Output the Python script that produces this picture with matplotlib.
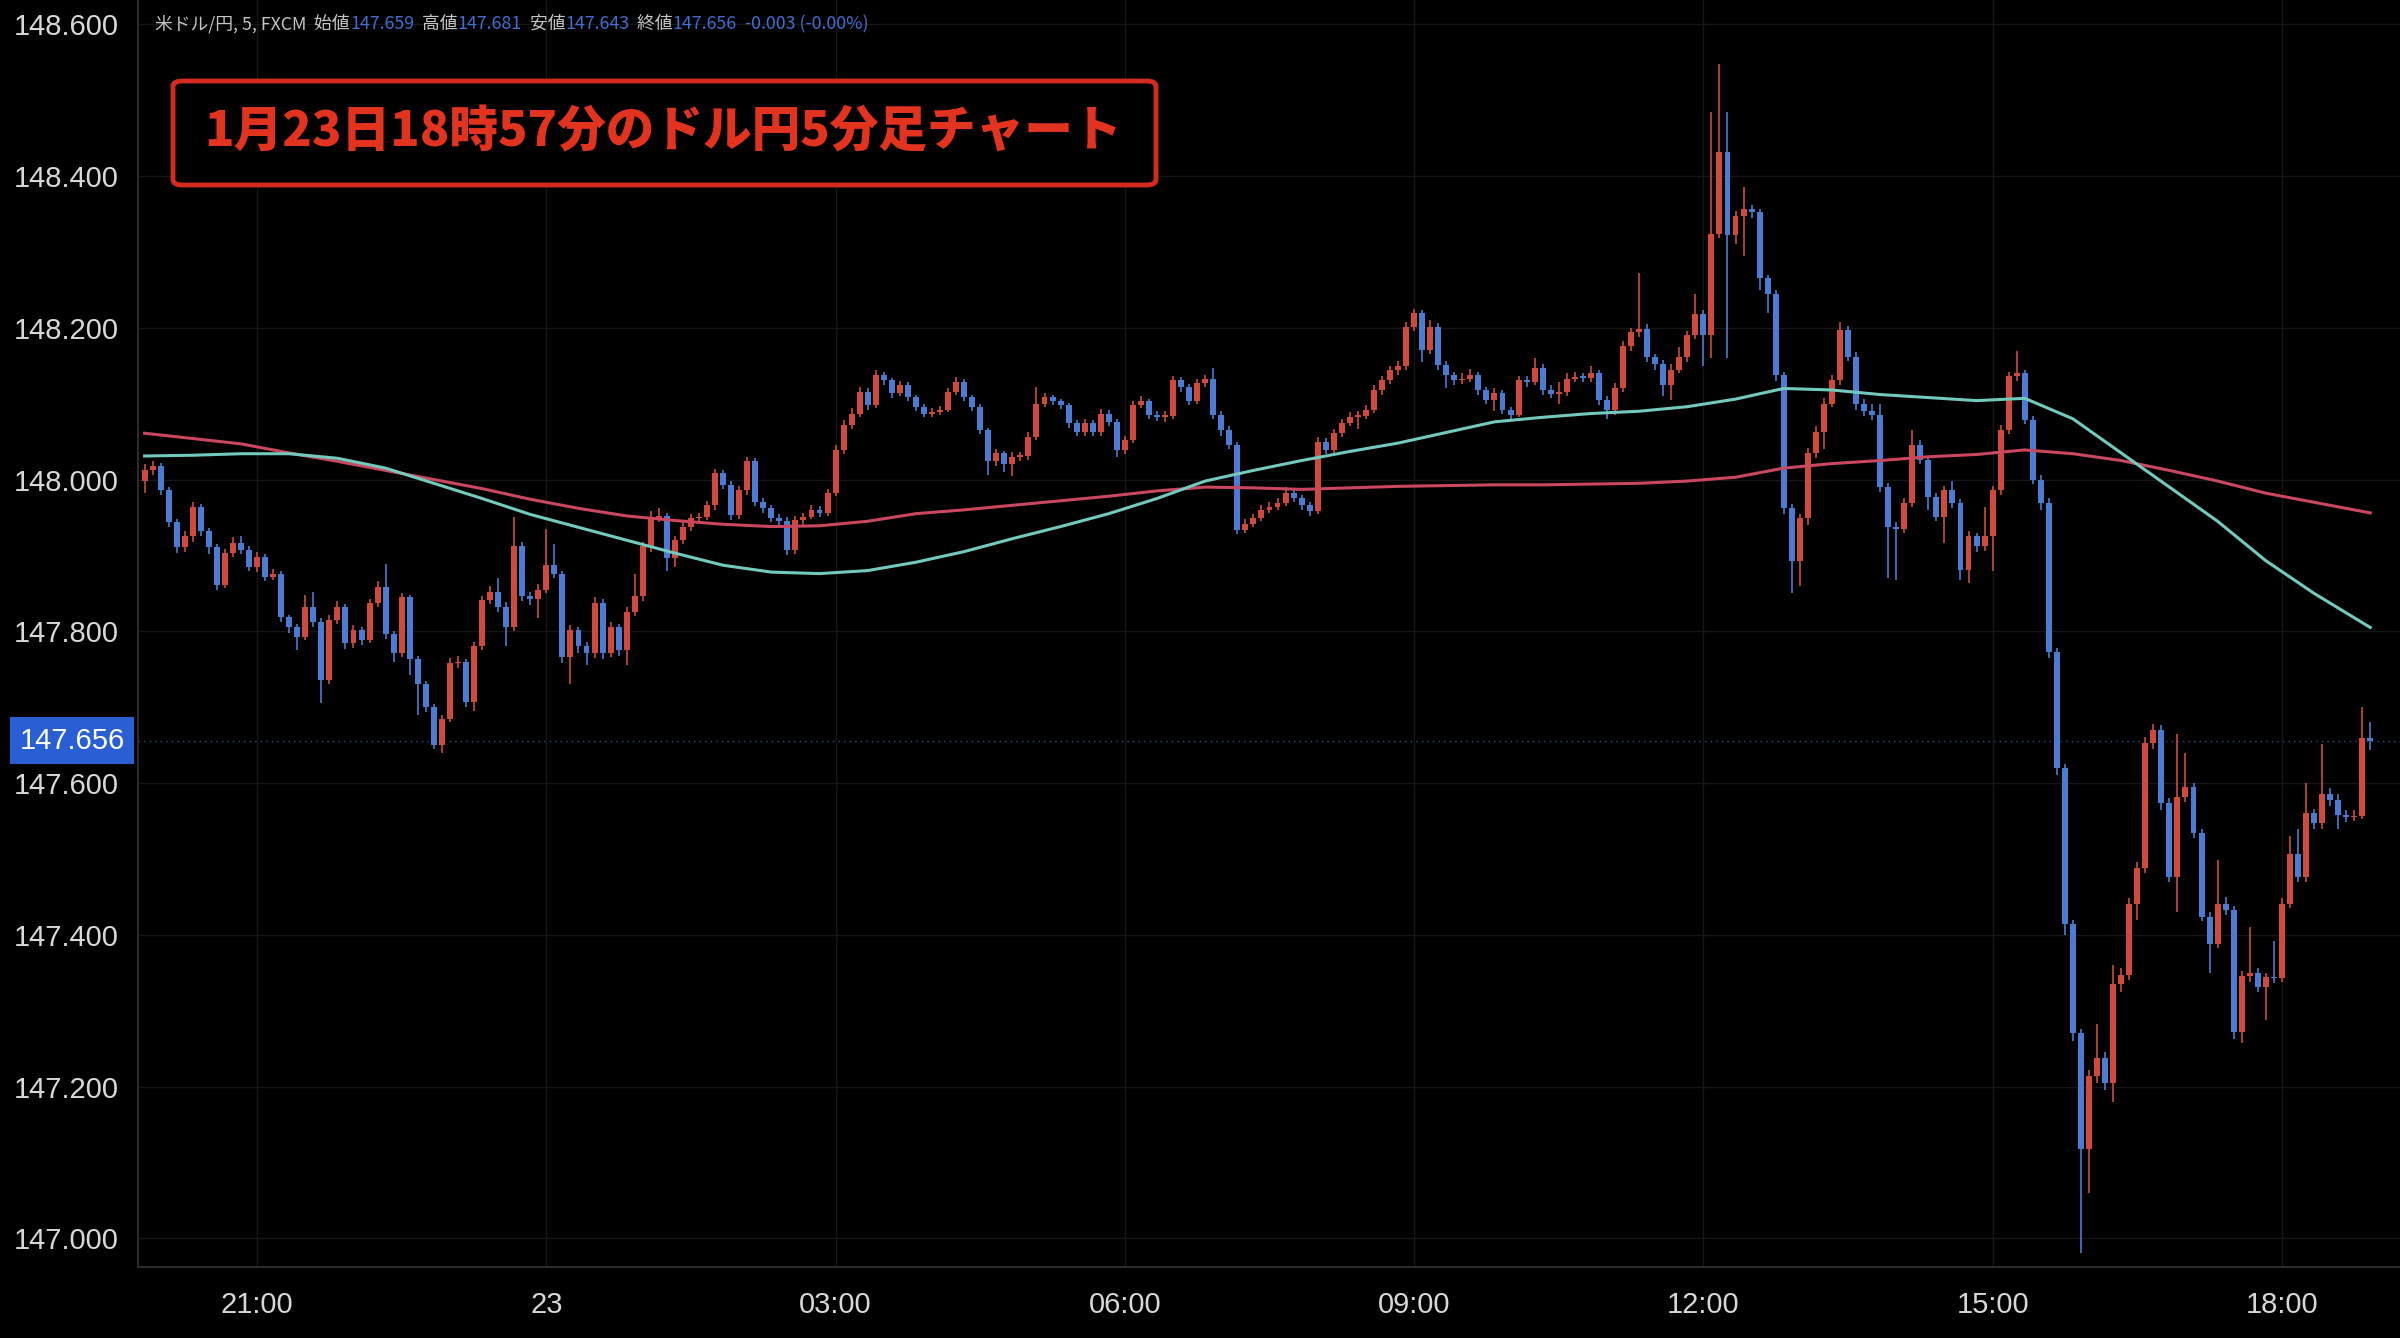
import matplotlib
matplotlib.use("Agg")
import matplotlib.pyplot as plt
from matplotlib.patches import FancyBboxPatch
import numpy as np
import pandas as pd

# USD/JPY 5-minute candles, 2024-01-22 19:50 .. 2024-01-23 18:55
first_open = 147.998
close = [
    148.012, 148.018, 147.986, 147.944, 147.911, 147.925, 147.964, 147.932, 147.911, 147.861, 147.903, 147.916,
    147.907, 147.885, 147.898, 147.872, 147.876, 147.819, 147.806, 147.793, 147.832, 147.812, 147.736, 147.815,
    147.832, 147.784, 147.802, 147.788, 147.837, 147.859, 147.797, 147.771, 147.845, 147.764, 147.731, 147.700,
    147.650, 147.685, 147.758, 147.760, 147.707, 147.780, 147.841, 147.852, 147.832, 147.806, 147.912, 147.846,
    147.842, 147.855, 147.887, 147.876, 147.766, 147.802, 147.780, 147.771, 147.837, 147.771, 147.806, 147.775,
    147.826, 147.846, 147.912, 147.949, 147.952, 147.896, 147.920, 147.938, 147.949, 147.951, 147.966, 148.008,
    147.993, 147.953, 147.986, 148.024, 147.971, 147.962, 147.949, 147.945, 147.907, 147.947, 147.951, 147.960,
    147.956, 147.982, 148.039, 148.072, 148.087, 148.116, 148.098, 148.138, 148.131, 148.114, 148.125, 148.109,
    148.096, 148.087, 148.089, 148.092, 148.116, 148.129, 148.109, 148.096, 148.065, 148.024, 148.035, 148.021,
    148.030, 148.031, 148.056, 148.100, 148.109, 148.103, 148.098, 148.074, 148.063, 148.074, 148.063, 148.087,
    148.076, 148.039, 148.052, 148.098, 148.103, 148.085, 148.083, 148.084, 148.131, 148.122, 148.103, 148.127,
    148.133, 148.085, 148.065, 148.046, 147.934, 147.942, 147.949, 147.960, 147.964, 147.969, 147.982, 147.975,
    147.966, 147.958, 148.050, 148.039, 148.061, 148.074, 148.083, 148.084, 148.092, 148.118, 148.131, 148.144,
    148.149, 148.201, 148.219, 148.171, 148.201, 148.151, 148.138, 148.131, 148.133, 148.138, 148.118, 148.105,
    148.114, 148.092, 148.085, 148.131, 148.129, 148.147, 148.118, 148.113, 148.115, 148.133, 148.135, 148.134,
    148.140, 148.105, 148.091, 148.121, 148.176, 148.194, 148.199, 148.161, 148.152, 148.124, 148.145, 148.161,
    148.190, 148.218, 148.190, 148.324, 148.432, 148.322, 148.347, 148.357, 148.352, 148.265, 148.244, 148.138,
    147.962, 147.892, 147.949, 148.035, 148.063, 148.100, 148.131, 148.197, 148.162, 148.100, 148.090, 148.085,
    147.990, 147.938, 147.935, 147.969, 148.046, 148.026, 147.977, 147.951, 147.986, 147.969, 147.881, 147.925,
    147.912, 147.925, 147.986, 148.065, 148.136, 148.140, 148.079, 148.000, 147.969, 147.773, 147.620, 147.414,
    147.270, 147.117, 147.214, 147.238, 147.205, 147.335, 147.347, 147.441, 147.488, 147.653, 147.670, 147.573,
    147.476, 147.582, 147.595, 147.534, 147.424, 147.388, 147.441, 147.432, 147.272, 147.345, 147.349, 147.331,
    147.344, 147.343, 147.441, 147.507, 147.476, 147.560, 147.547, 147.586, 147.577, 147.558, 147.555, 147.557,
    147.659, 147.656,
]
high = [
    148.020, 148.024, 148.022, 147.990, 147.948, 147.932, 147.970, 147.968, 147.936, 147.915, 147.909, 147.924,
    147.925, 147.912, 147.904, 147.902, 147.882, 147.880, 147.822, 147.810, 147.848, 147.852, 147.818, 147.822,
    147.840, 147.836, 147.808, 147.806, 147.842, 147.866, 147.889, 147.800, 147.850, 147.848, 147.768, 147.735,
    147.704, 147.690, 147.765, 147.768, 147.764, 147.786, 147.846, 147.860, 147.870, 147.838, 147.950, 147.918,
    147.852, 147.862, 147.935, 147.915, 147.880, 147.808, 147.806, 147.786, 147.845, 147.842, 147.812, 147.810,
    147.832, 147.875, 147.918, 147.958, 147.962, 147.956, 147.926, 147.944, 147.955, 147.956, 147.972, 148.014,
    148.012, 147.998, 147.992, 148.030, 148.028, 147.976, 147.966, 147.955, 147.950, 147.952, 147.956, 147.966,
    147.965, 147.988, 148.045, 148.078, 148.094, 148.122, 148.120, 148.145, 148.142, 148.134, 148.130, 148.128,
    148.112, 148.100, 148.094, 148.097, 148.121, 148.135, 148.132, 148.112, 148.099, 148.068, 148.040, 148.038,
    148.036, 148.036, 148.062, 148.122, 148.114, 148.112, 148.106, 148.101, 148.078, 148.080, 148.078, 148.093,
    148.092, 148.080, 148.058, 148.104, 148.110, 148.106, 148.090, 148.090, 148.137, 148.135, 148.126, 148.133,
    148.138, 148.147, 148.090, 148.070, 148.050, 147.948, 147.955, 147.966, 147.970, 147.975, 147.990, 147.986,
    147.980, 147.970, 148.056, 148.055, 148.066, 148.080, 148.089, 148.090, 148.098, 148.124, 148.137, 148.150,
    148.156, 148.207, 148.225, 148.224, 148.210, 148.206, 148.156, 148.142, 148.140, 148.146, 148.142, 148.122,
    148.120, 148.118, 148.096, 148.137, 148.136, 148.160, 148.152, 148.124, 148.128, 148.140, 148.142, 148.140,
    148.150, 148.145, 148.110, 148.127, 148.182, 148.200, 148.272, 148.205, 148.166, 148.158, 148.152, 148.175,
    148.196, 148.245, 148.224, 148.484, 148.548, 148.484, 148.354, 148.386, 148.362, 148.356, 148.270, 148.250,
    148.142, 147.968, 147.955, 148.042, 148.070, 148.108, 148.138, 148.208, 148.202, 148.168, 148.106, 148.100,
    148.100, 147.995, 147.944, 147.975, 148.065, 148.052, 148.030, 147.982, 147.992, 147.998, 147.974, 147.932,
    147.930, 147.964, 147.992, 148.072, 148.142, 148.169, 148.145, 148.084, 148.006, 147.975, 147.778, 147.625,
    147.420, 147.276, 147.222, 147.282, 147.245, 147.360, 147.356, 147.448, 147.496, 147.660, 147.678, 147.676,
    147.580, 147.665, 147.640, 147.600, 147.540, 147.430, 147.498, 147.450, 147.438, 147.352, 147.410, 147.356,
    147.350, 147.392, 147.448, 147.530, 147.540, 147.600, 147.566, 147.652, 147.594, 147.585, 147.564, 147.565,
    147.700, 147.681,
]
low = [
    147.982, 148.006, 147.980, 147.938, 147.903, 147.905, 147.918, 147.926, 147.902, 147.855, 147.857, 147.898,
    147.902, 147.880, 147.878, 147.866, 147.868, 147.812, 147.798, 147.775, 147.788, 147.806, 147.705, 147.730,
    147.810, 147.776, 147.778, 147.782, 147.784, 147.832, 147.790, 147.760, 147.766, 147.742, 147.690, 147.694,
    147.645, 147.640, 147.680, 147.752, 147.700, 147.695, 147.775, 147.836, 147.826, 147.780, 147.800, 147.840,
    147.835, 147.818, 147.850, 147.870, 147.758, 147.731, 147.772, 147.755, 147.765, 147.764, 147.766, 147.768,
    147.755, 147.820, 147.840, 147.905, 147.944, 147.880, 147.885, 147.915, 147.932, 147.945, 147.946, 147.960,
    147.988, 147.946, 147.948, 147.980, 147.965, 147.956, 147.944, 147.938, 147.900, 147.902, 147.940, 147.948,
    147.950, 147.952, 147.978, 148.034, 148.066, 148.082, 148.092, 148.094, 148.125, 148.108, 148.110, 148.104,
    148.090, 148.082, 148.083, 148.085, 148.089, 148.112, 148.104, 148.090, 148.060, 148.006, 148.018, 148.010,
    148.004, 148.024, 148.026, 148.052, 148.095, 148.098, 148.093, 148.068, 148.057, 148.058, 148.057, 148.058,
    148.070, 148.030, 148.034, 148.048, 148.094, 148.080, 148.077, 148.076, 148.080, 148.116, 148.098, 148.100,
    148.122, 148.080, 148.058, 148.040, 147.928, 147.930, 147.938, 147.945, 147.956, 147.960, 147.965, 147.970,
    147.960, 147.952, 147.955, 148.033, 148.035, 148.056, 148.070, 148.066, 148.080, 148.088, 148.112, 148.126,
    148.138, 148.145, 148.196, 148.155, 148.165, 148.145, 148.120, 148.125, 148.126, 148.128, 148.112, 148.099,
    148.090, 148.086, 148.078, 148.082, 148.122, 148.124, 148.112, 148.108, 148.100, 148.110, 148.128, 148.128,
    148.128, 148.098, 148.080, 148.085, 148.116, 148.170, 148.188, 148.155, 148.145, 148.110, 148.105, 148.140,
    148.155, 148.185, 148.150, 148.160, 148.318, 148.160, 148.310, 148.295, 148.345, 148.250, 148.220, 148.130,
    147.955, 147.850, 147.860, 147.940, 148.028, 148.040, 148.095, 148.125, 148.156, 148.092, 148.084, 148.078,
    147.984, 147.870, 147.868, 147.930, 147.964, 148.020, 147.960, 147.945, 147.916, 147.963, 147.867, 147.863,
    147.905, 147.906, 147.880, 147.980, 148.060, 148.130, 148.073, 147.994, 147.960, 147.765, 147.610, 147.400,
    147.260, 146.980, 147.060, 147.205, 147.195, 147.180, 147.325, 147.340, 147.420, 147.482, 147.645, 147.565,
    147.470, 147.430, 147.575, 147.528, 147.418, 147.350, 147.382, 147.426, 147.262, 147.257, 147.338, 147.325,
    147.287, 147.336, 147.338, 147.435, 147.470, 147.470, 147.540, 147.540, 147.570, 147.540, 147.548, 147.550,
    147.552, 147.643,
]

# moving averages every half hour
ma_times = [
    "2024-01-22 19:50", "2024-01-22 20:20", "2024-01-22 20:50", "2024-01-22 21:20", "2024-01-22 21:50",
    "2024-01-22 22:20", "2024-01-22 22:50", "2024-01-22 23:20", "2024-01-22 23:50", "2024-01-23 00:20",
    "2024-01-23 00:50", "2024-01-23 01:20", "2024-01-23 01:50", "2024-01-23 02:20", "2024-01-23 02:50",
    "2024-01-23 03:20", "2024-01-23 03:50", "2024-01-23 04:20", "2024-01-23 04:50", "2024-01-23 05:20",
    "2024-01-23 05:50", "2024-01-23 06:20", "2024-01-23 06:50", "2024-01-23 07:20", "2024-01-23 07:50",
    "2024-01-23 08:20", "2024-01-23 08:50", "2024-01-23 09:20", "2024-01-23 09:50", "2024-01-23 10:20",
    "2024-01-23 10:50", "2024-01-23 11:20", "2024-01-23 11:50", "2024-01-23 12:20", "2024-01-23 12:50",
    "2024-01-23 13:20", "2024-01-23 13:50", "2024-01-23 14:20", "2024-01-23 14:50", "2024-01-23 15:20",
    "2024-01-23 15:50", "2024-01-23 16:20", "2024-01-23 16:50", "2024-01-23 17:20", "2024-01-23 17:50",
    "2024-01-23 18:20", "2024-01-23 18:55",
]
ma_fast = [
    148.031, 148.032, 148.034, 148.034, 148.028, 148.015, 147.995, 147.975, 147.954, 147.937,
    147.920, 147.903, 147.887, 147.878, 147.876, 147.880, 147.891, 147.905, 147.922, 147.938,
    147.955, 147.975, 147.998, 148.012, 148.025, 148.037, 148.048, 148.062, 148.076, 148.082,
    148.087, 148.090, 148.096, 148.106, 148.120, 148.118, 148.112, 148.108, 148.104, 148.107,
    148.080, 148.035, 147.990, 147.945, 147.893, 147.850, 147.805,
]
ma_slow = [
    148.061, 148.054, 148.047, 148.035, 148.024, 148.012, 148.000, 147.988, 147.974, 147.962,
    147.952, 147.946, 147.941, 147.938, 147.939, 147.945, 147.955, 147.960, 147.966, 147.972,
    147.978, 147.985, 147.990, 147.989, 147.987, 147.989, 147.991, 147.992, 147.993, 147.993,
    147.994, 147.995, 147.998, 148.003, 148.015, 148.021, 148.025, 148.030, 148.033, 148.039,
    148.034, 148.025, 148.012, 147.998, 147.982, 147.970, 147.956,
]

tick_times = [
    "2024-01-22 21:00", "2024-01-23 00:00", "2024-01-23 03:00", "2024-01-23 06:00",
    "2024-01-23 09:00", "2024-01-23 12:00", "2024-01-23 15:00", "2024-01-23 18:00",
]
tick_labels = ["21:00", "23", "03:00", "06:00", "09:00", "12:00", "15:00", "18:00"]
price_ticks = [147.0, 147.2, 147.4, 147.6, 147.8, 148.0, 148.2, 148.4, 148.6]

last_price = 147.656
title = "1月23日18時57分のドル円5分足チャート"
header_parts = [
    ("米ドル/円, 5, FXCM", "label"),
    ("  始値", "label"), ("147.659", "value"),
    ("  高値", "label"), ("147.681", "value"),
    ("  安値", "label"), ("147.643", "value"),
    ("  終値", "label"), ("147.656", "value"),
    ("  -0.003 (-0.00%)", "value"),
]

UP = "#cf4a3c"
DOWN = "#4b7bd3"
FAST = "#72c9bd"
SLOW = "#c9475f"
BG = "#000000"
GRID = "#161616"
TEXT = "#d8d8d8"
CJK = ["Noto Sans CJK JP", "DejaVu Sans"]
NUM = ["Liberation Sans", "DejaVu Sans"]

times = pd.date_range("2024-01-22 19:50", periods=len(close), freq="5min")
c = np.array(close)
o = np.concatenate([[first_open], c[:-1]])
h = np.maximum(np.array(high), np.maximum(o, c))
l = np.minimum(np.array(low), np.minimum(o, c))
x = np.arange(len(c))
rising = c >= o

fig = plt.figure(figsize=(24, 13.38), dpi=100, facecolor=BG)
ax = fig.add_axes([0.0575, 0.053, 0.9425, 0.947], facecolor=BG)

# wicks then bodies
ax.vlines(x[rising], l[rising], h[rising], color=UP, linewidth=1.2, zorder=2)
ax.vlines(x[~rising], l[~rising], h[~rising], color=DOWN, linewidth=1.2, zorder=2)
body_lo = np.minimum(o, c)
body_h = np.maximum(np.abs(c - o), 0.0018)
ax.bar(x[rising], body_h[rising], bottom=body_lo[rising], width=0.74,
       color=UP, linewidth=0, zorder=3)
ax.bar(x[~rising], body_h[~rising], bottom=body_lo[~rising], width=0.74,
       color=DOWN, linewidth=0, zorder=3)

ma_x = times.get_indexer(pd.to_datetime(ma_times))
ax.plot(ma_x, ma_slow, color=SLOW, linewidth=2.2, zorder=4, solid_joinstyle="round")
ax.plot(ma_x, ma_fast, color=FAST, linewidth=2.2, zorder=4, solid_joinstyle="round")

ax.axhline(last_price, color="#2c4f8c", linewidth=1.0, linestyle=(0, (1, 3)), zorder=1)

ax.set_xlim(-0.82, 280.7)
ax.set_ylim(146.962, 148.632)

tick_x = times.get_indexer(pd.to_datetime(tick_times))
ax.set_xticks(tick_x)
ax.set_xticklabels(tick_labels)
ax.set_yticks(price_ticks)
ax.set_yticklabels([f"{v:.3f}" for v in price_ticks])
ax.tick_params(axis="both", length=0, colors=TEXT, labelsize=21)
ax.tick_params(axis="x", pad=17)
ax.tick_params(axis="y", pad=14)
for lab in ax.get_xticklabels() + ax.get_yticklabels():
    lab.set_family(NUM)

ax.grid(True, color=GRID, linewidth=1.0, zorder=0)
for side in ("top", "right"):
    ax.spines[side].set_visible(False)
for side in ("left", "bottom"):
    ax.spines[side].set_color("#2b2b2b")
    ax.spines[side].set_linewidth(1.5)

# last price tag on the price scale
ax.text(-0.0058, last_price, f"{last_price:.3f}", transform=ax.get_yaxis_transform(),
        ha="right", va="center", fontsize=21, family=NUM, color="white", clip_on=False,
        bbox=dict(boxstyle="square,pad=0.32", facecolor="#2a5fd4", edgecolor="none"))

# header line with colored segments
renderer = fig.canvas.get_renderer()
hx = 155 / 2400
for text, kind in header_parts:
    t = fig.text(hx, 1 - 24 / 1338, text, fontsize=12.8, family=CJK, va="center", ha="left",
                 color="#c4c4c4" if kind == "label" else "#3f6fd0")
    hx += t.get_window_extent(renderer).width / fig.bbox.width

# red framed title
box = FancyBboxPatch((173 / 2400, 1 - 185 / 1338), (1156 - 173) / 2400, (185 - 81) / 1338,
                     boxstyle="round,pad=0,rounding_size=0.004", transform=fig.transFigure,
                     facecolor=BG, edgecolor="#d42b1f", linewidth=3.5, zorder=10)
fig.patches.append(box)
fig.text(663 / 2400, 1 - 132 / 1338, title, fontsize=35, fontweight="heavy", family=CJK,
         color="#e2331f", ha="center", va="center", zorder=11)

fig.savefig("out.png", dpi=100, facecolor=BG)
